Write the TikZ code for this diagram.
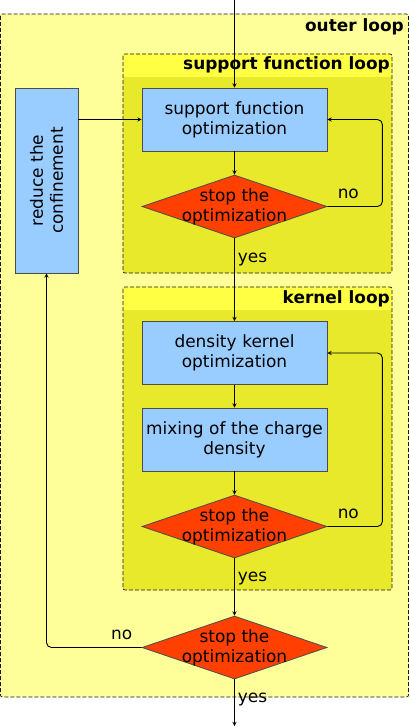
\documentclass[tikz,border=0pt]{standalone}
\usepackage{fontspec}
\setmainfont{DejaVu Sans}
\usetikzlibrary{shapes.geometric}
\definecolor{outerfill}{HTML}{FFFF99}
\definecolor{loopfill}{HTML}{E9E92C}
\definecolor{loophead}{HTML}{FFFF44}
\definecolor{taskblue}{HTML}{99CCFF}
\definecolor{testred}{HTML}{FF4000}
\begin{document}
\begin{tikzpicture}[x=1bp, y=-1bp, font=\fontsize{17}{20}\selectfont,
	taskbox/.style={draw=black!70, fill=taskblue, line width=0.8bp, minimum width=185bp, minimum height=63bp, text width=182bp, align=center, inner sep=0pt},
	testbox/.style={draw=black!70, fill=testred, line width=0.8bp, shape=diamond, minimum width=185bp, minimum height=63bp, inner sep=0pt},
	flow/.style={draw=black, line width=0.9bp, -stealth},
	loopframe/.style={draw=black!90, line width=0.7bp, dash pattern=on 4bp off 2bp, rounded corners=2bp},
	looptitle/.style={font=\fontsize{17}{20}\selectfont\bfseries, anchor=east, inner sep=0pt},
	answer/.style={inner sep=3bp}]
		\useasboundingbox (0,0) rectangle (409,726);
		% loops
		\fill[outerfill] (0.5,14) rectangle (408.5,697);
		\draw[loopframe] (0.5,14) rectangle (408.5,697);
		\node[looptitle] (outertitle) at (404,27) {outer loop};
		\fill[loopfill, rounded corners=2bp] (123,54) rectangle (392,273);
		\fill[loophead, rounded corners=2bp] (123,54) rectangle (392,77);
		\draw[loopframe] (123,54) rectangle (392,273);
		\node[looptitle] (sftitle) at (390,65) {support function loop};
		\fill[loopfill, rounded corners=2bp] (123,287) rectangle (392,590);
		\fill[loophead, rounded corners=2bp] (123,287) rectangle (392,310);
		\draw[loopframe] (123,287) rectangle (392,590);
		\node[looptitle] (kertitle) at (390,299) {kernel loop};
		% steps
		\node[taskbox] (sfopt) at (234.5,119.5) {support function\\optimization};
		\node[testbox, label={[align=center]center:{stop the\\optimization}}] (sfstop) at (234.5,206.5) {};
		\node[taskbox] (dkopt) at (234.5,353) {density kernel\\optimization};
		\node[taskbox] (mixing) at (234.5,439.5) {mixing of the charge\\density};
		\node[testbox, label={[align=center]center:{stop the\\optimization}}] (dkstop) at (234.5,526.5) {};
		\node[testbox, label={[align=center]center:{stop the\\optimization}}] (outstop) at (234.5,647.5) {};
		\node[taskbox, rotate=90, text width=180bp] (reduce) at (46.5,180.5) {reduce the confinement};
		\coordinate (start) at (234.5,0);
		\coordinate (finish) at (234.5,726);
		% connectors
		\draw[flow] (start) -- (sfopt.north);
		\draw[flow] (sfopt.west -| reduce.south) -- (sfopt.west);
		\draw[flow] (sfopt.south) -- (sfstop.north);
		\draw[flow, rounded corners=5bp] (sfstop.east) -- node[answer, above=4bp, pos=0.38] (sfno) {no} ++(55,0) |- (sfopt.east);
		\draw[flow] (sfstop.south) -- node[answer, anchor=west, pos=0.25] (sfyes) {yes} (dkopt.north);
		\draw[flow] (dkopt.south) -- (mixing.north);
		\draw[flow] (mixing.south) -- (dkstop.north);
		\draw[flow, rounded corners=5bp] (dkstop.east) -- node[answer, above=4bp, pos=0.38] (dkno) {no} ++(55,0) |- (dkopt.east);
		\draw[flow] (dkstop.south) -- node[answer, anchor=west, pos=0.35] (dkyes) {yes} (outstop.north);
		\draw[flow, rounded corners=5bp] (outstop.west) -| node[answer, above=4bp, pos=0.105] (outno) {no} (reduce.west);
		\draw[flow] (outstop.south) -- node[answer, anchor=west, pos=0.44] (outyes) {yes} (finish);
	\end{tikzpicture}
\end{document}
